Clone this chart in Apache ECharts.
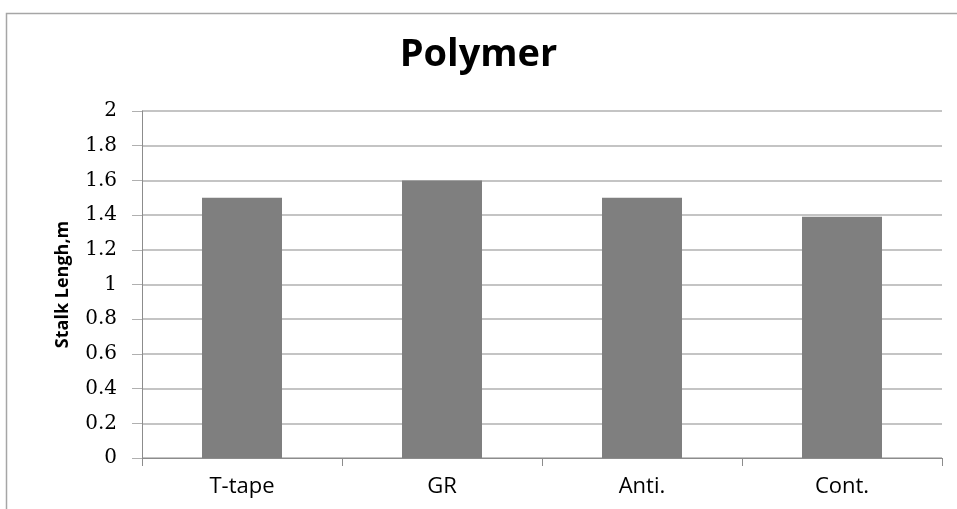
<!DOCTYPE html>
<html>
<head>
<meta charset="utf-8">
<script src="https://cdn.jsdelivr.net/npm/echarts@6/dist/echarts.min.js"></script>
<style>
  html, body { margin: 0; padding: 0; background: #fff; }
  #chart { width: 957px; height: 509px; }
</style>
</head>
<body>
<div id="chart"></div>
<script>
// Stalk length per polymer treatment
const categories = ['T-tape', 'GR', 'Anti.', 'Cont.'];
const stalkLength = [1.5, 1.6, 1.5, 1.39];
const yTicks = [0, 0.2, 0.4, 0.6, 0.8, 1, 1.2, 1.4, 1.6, 1.8, 2];

const chart = echarts.init(document.getElementById('chart'));
chart.setOption({
  animation: false,
  backgroundColor: '#fff',
  graphic: [{
    type: 'rect',
    shape: { x: 6.5, y: 13.5, width: 980, height: 520 },
    style: { fill: 'none', stroke: '#a6a6a6', lineWidth: 1.5 },
    silent: true
  }],
  title: {
    text: 'Polymer',
    left: 'center',
    top: 31,
    textStyle: { fontFamily: 'Open Sans', fontWeight: 'bold', fontSize: 38, color: '#000' }
  },
  grid: { left: 142, right: 15, top: 111, bottom: 51, containLabel: false },
  xAxis: {
    type: 'category',
    data: categories,
    axisLine: { lineStyle: { color: '#8c8c8c', width: 1 } },
    axisTick: { show: true, length: 8, alignWithLabel: false, lineStyle: { color: '#8c8c8c' } },
    axisLabel: { fontFamily: 'Open Sans', fontSize: 22, color: '#000', margin: 18 }
  },
  yAxis: {
    type: 'value',
    min: yTicks[0],
    max: yTicks[yTicks.length - 1],
    interval: 0.2,
    name: 'Stalk Lengh,m',
    nameLocation: 'middle',
    nameGap: 70,
    nameTextStyle: { fontFamily: 'Open Sans', fontWeight: 'bold', fontSize: 18, color: '#000' },
    axisLine: { show: true, lineStyle: { color: '#8c8c8c', width: 1 } },
    axisTick: { show: true, length: 10, lineStyle: { color: '#b0b0b0' } },
    axisLabel: {
      fontFamily: 'DejaVu Serif', fontSize: 20, color: '#000', margin: 25,
      formatter: v => String(Math.round(v * 10) / 10)
    },
    splitLine: { lineStyle: { color: '#b0b0b0', width: 1.5 } }
  },
  series: [{
    type: 'bar',
    data: stalkLength,
    barWidth: '40%',
    itemStyle: { color: '#7f7f7f' }
  }]
});
</script>
</body>
</html>
